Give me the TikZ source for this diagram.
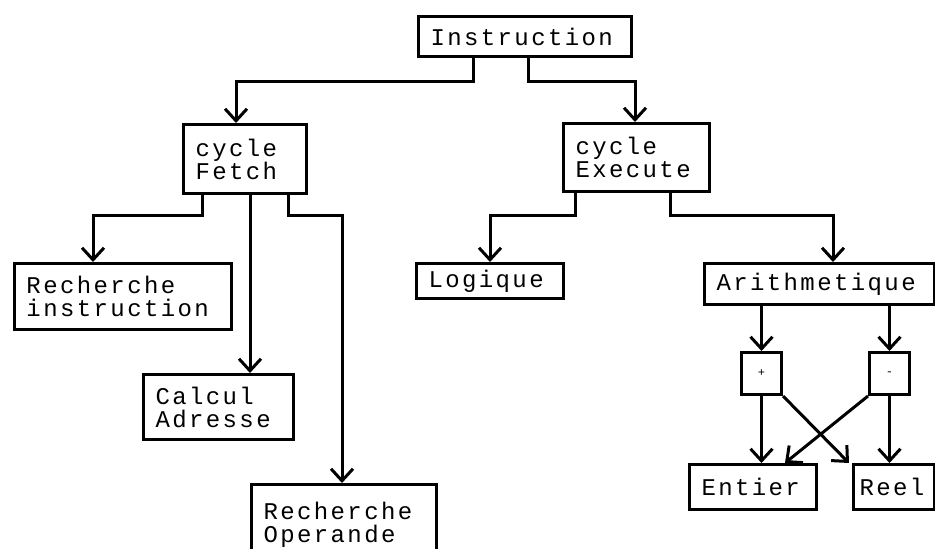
\documentclass[tikz,border=0pt]{standalone}
\usepackage{fontspec}
\setmonofont{Liberation Mono}[LetterSpace=10]
\usetikzlibrary{arrows.meta}

\begin{document}
\begin{tikzpicture}[x=1pt,y=-1pt,
        box/.style={draw,line width=3pt,anchor=north west,inner xsep=12pt,inner ysep=2pt,align=left,
            font=\ttfamily\fontsize{24}{23}\selectfont},
        opbox/.style={draw,line width=3pt,anchor=north west,minimum width=40pt,minimum height=42pt,
            inner sep=0pt,font=\ttfamily\fontsize{12}{12}\selectfont},
        link/.style={line width=3pt},
        arrow/.style={link,-{Straight Barb[length=12pt,width=22pt]}}]

    \useasboundingbox (0,0) rectangle (935,549);

    \node[box,text width=189pt,minimum height=40pt] (instr) at (417,15) {Instruction};

    \node[box,text width=99pt,minimum height=69pt] (fetch) at (182,123) {cycle\\Fetch};
    \node[box,text width=122pt,minimum height=68pt] (exec) at (562,122) {cycle\\Execute};

    \node[box,text width=193pt,minimum height=66pt] (rinstr) at (13,262) {Recherche\\instruction};
    \node[box,text width=126pt,minimum height=65pt] (calcul) at (142,373) {Calcul\\Adresse};
    \node[box,text width=161pt,minimum height=80pt] (oper) at (250,483) {Recherche\\Operande};

    \node[box,text width=123pt,minimum height=35pt] (logique) at (415,262) {Logique};
    \node[box,text width=206pt,minimum height=41pt] (arith) at (703,262) {Arithmetique};

    \node[opbox] (plus) at (740,351) {+};
    \node[opbox] (minus) at (868,351) {-};

    \node[box,text width=103pt,minimum height=45pt] (entier) at (688,463) {Entier};
    \node[box,inner xsep=6pt,text width=69pt,minimum height=45pt] (reel) at (852,463) {Reel};

    \draw[arrow] ([xshift=56]instr.south west) -- ++(0,23) -| ([xshift=54]fetch.north west);
    \draw[arrow] ([xshift=111]instr.south west) -- ++(0,23) -| ([xshift=73]exec.north west);

    \draw[arrow] ([xshift=20]fetch.south west) -- ++(0,20) -| ([xshift=80]rinstr.north west);
    \draw[arrow] ([xshift=68]fetch.south west) -- ([xshift=108]calcul.north west);
    \draw[arrow] ([xshift=106]fetch.south west) -- ++(0,20) -| ([xshift=92]oper.north west);

    \draw[arrow] ([xshift=13]exec.south west) -- ++(0,22) -| ([xshift=75]logique.north west);
    \draw[arrow] ([xshift=108]exec.south west) -- ++(0,22) -| ([xshift=130]arith.north west);

    \draw[arrow] (arith.south -| plus.north) -- (plus.north);
    \draw[arrow] (arith.south -| minus.north) -- (minus.north);

    \draw[arrow] (plus.south) -- (plus.south |- entier.north);
    \draw[arrow] (plus.south east) -- ([xshift=-3]reel.north west);
    \draw[arrow] (minus.south) -- (minus.south |- reel.north);
    \draw[arrow] (minus.south west) -- ([xshift=-33]entier.north east);
\end{tikzpicture}
\end{document}
